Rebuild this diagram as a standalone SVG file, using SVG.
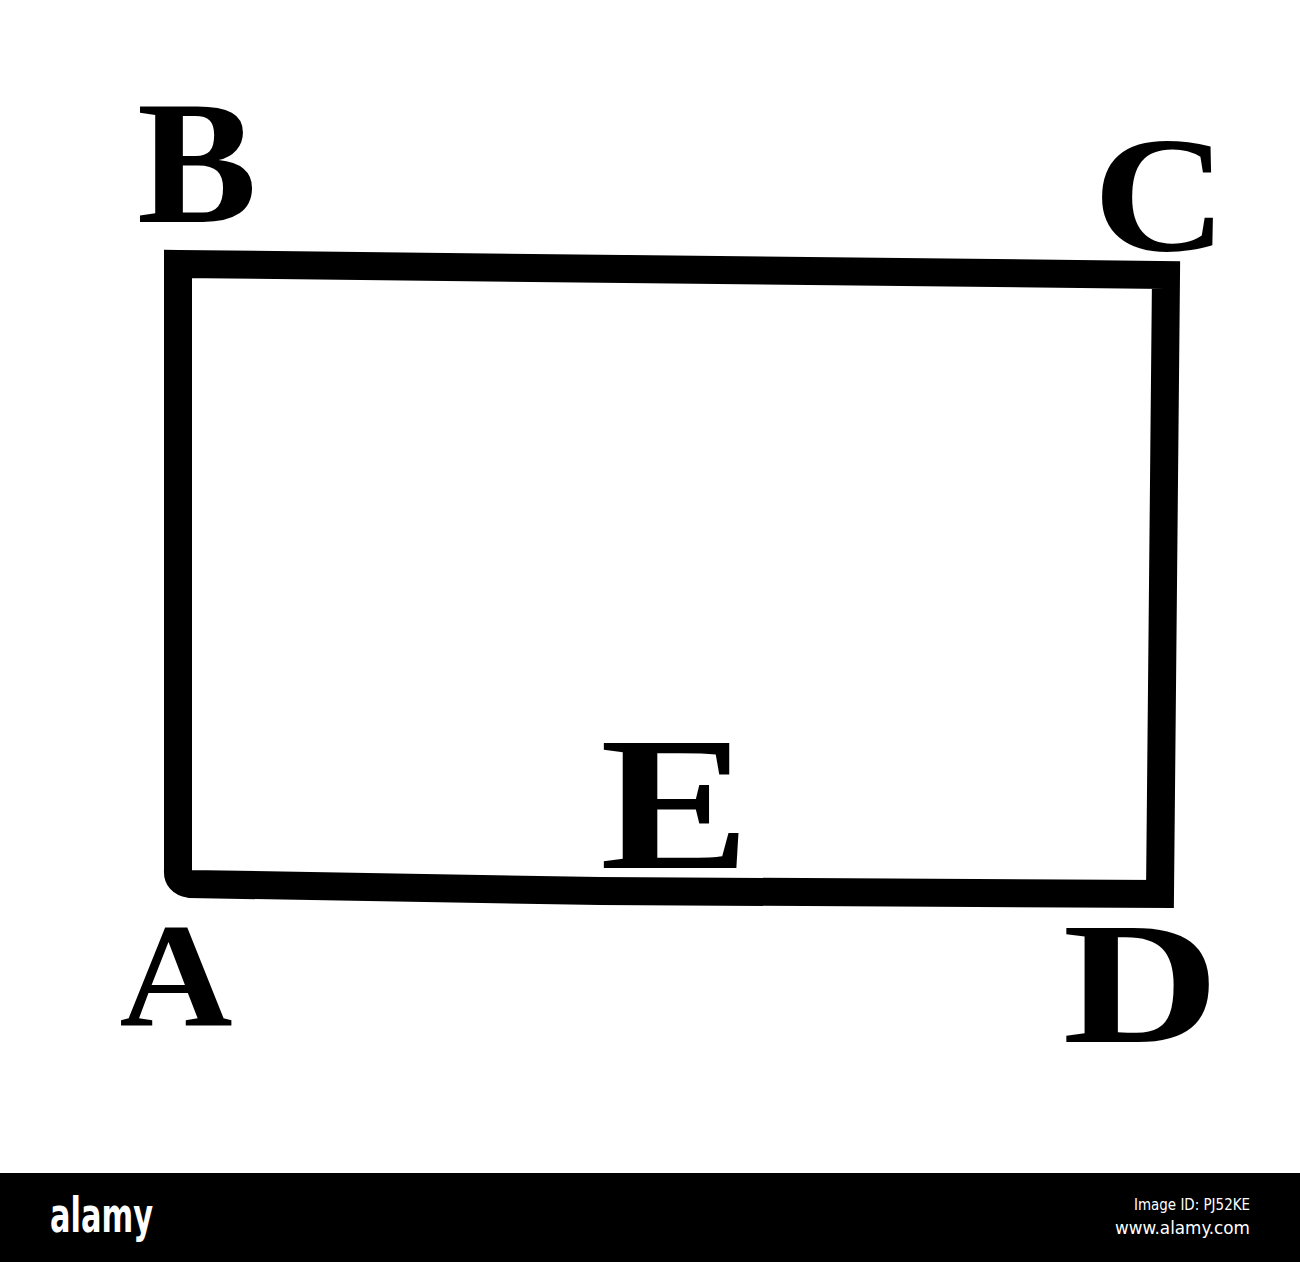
<svg xmlns="http://www.w3.org/2000/svg" width="1300" height="1262" viewBox="0 0 1300 1262">
<style>
.lbl{font-family:"Liberation Serif","DejaVu Serif",serif;font-weight:bold;fill:#000;text-anchor:middle}
.wm{font-family:"DejaVu Sans Condensed","Liberation Sans",sans-serif;fill:#fff}
</style>
<rect x="0" y="0" width="1300" height="1262" fill="#fff"/>
<g id="connectors">
<path id="rect-ABCD" d="M178,264 L1166,275 L1160,894 L600,891 L190,884 Q177,882 178,870 Z" fill="none" stroke="#000" stroke-width="28" stroke-linejoin="miter"/>
</g>
<g id="node-B"><text class="lbl" x="197" y="222" font-size="176" textLength="120" lengthAdjust="spacingAndGlyphs">B</text></g>
<g id="node-C"><text class="lbl" x="1160" y="250" font-size="166" textLength="134" lengthAdjust="spacingAndGlyphs">C</text></g>
<g id="node-A"><text class="lbl" x="176" y="1025" font-size="148" textLength="113" lengthAdjust="spacingAndGlyphs">A</text></g>
<g id="node-D"><text class="lbl" x="1141" y="1042" font-size="174" textLength="157" lengthAdjust="spacingAndGlyphs">D</text></g>
<g id="node-E"><text class="lbl" x="675" y="868" font-size="190" textLength="150" lengthAdjust="spacingAndGlyphs">E</text></g>
<g id="watermark">
<rect x="0" y="1173" width="1300" height="89" fill="#000"/>
<text class="wm" x="50" y="1232" font-size="48" font-weight="bold" textLength="103" lengthAdjust="spacingAndGlyphs">alamy</text>
<text class="wm" x="1134" y="1210" font-size="15" textLength="116" lengthAdjust="spacingAndGlyphs">Image ID: PJ52KE</text>
<text class="wm" x="1115" y="1234" font-size="18" textLength="135" lengthAdjust="spacingAndGlyphs">www.alamy.com</text>
</g>
</svg>
